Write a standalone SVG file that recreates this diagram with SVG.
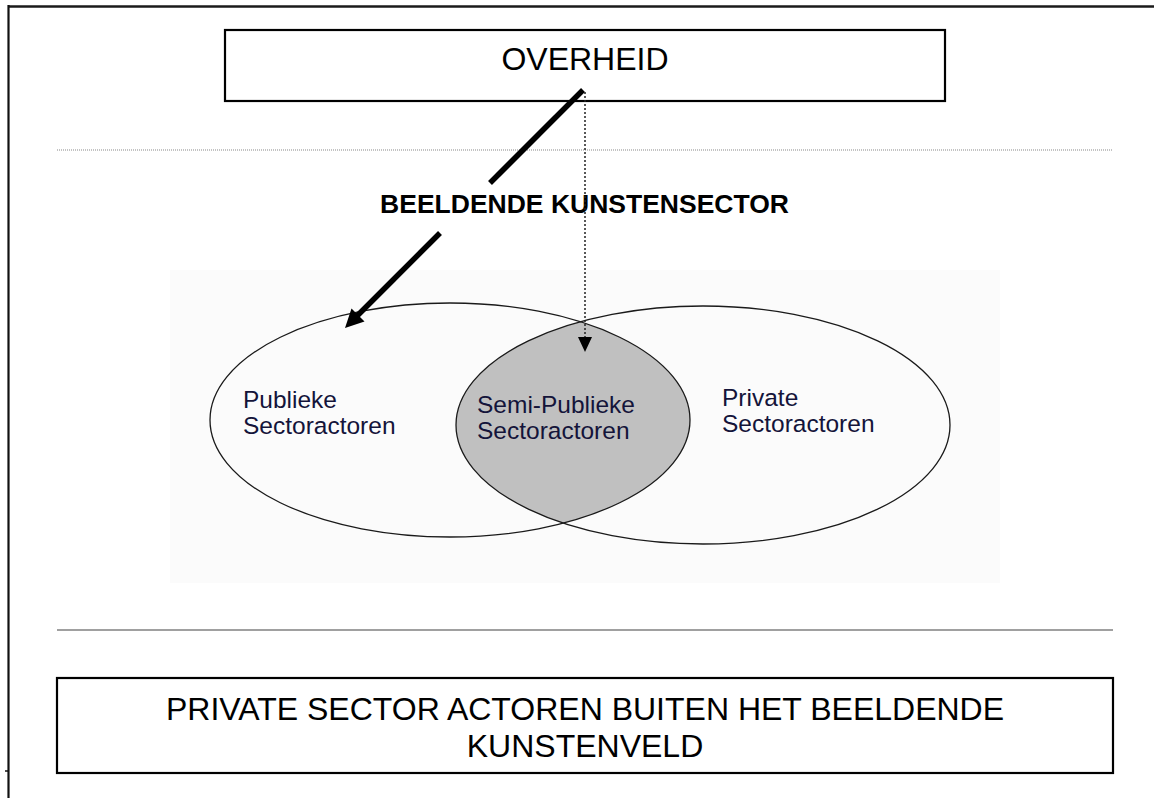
<svg xmlns="http://www.w3.org/2000/svg" width="1154" height="798" viewBox="0 0 1154 798">
<style>
.box{fill:#fff;stroke:#000;stroke-width:2.2}
.big{font-family:"Liberation Sans",Arial,sans-serif;font-size:32px;fill:#000;text-anchor:middle}
.title{font-family:"Liberation Sans",Arial,sans-serif;font-size:26.5px;font-weight:bold;fill:#000;text-anchor:middle}
.venn{font-family:"Liberation Sans",Arial,sans-serif;font-size:24.5px;fill:#14143a}
.ell{fill:none;stroke:#1a1a1a;stroke-width:1.3}
</style>
<defs>
<clipPath id="clipLeft"><ellipse cx="450" cy="420" rx="240" ry="117"/></clipPath>
</defs>
<rect width="1154" height="798" fill="#fff"/>
<g id="frame">
<line x1="8" y1="6.5" x2="1154" y2="6.5" stroke="#1a1a1a" stroke-width="2.6"/>
<line x1="8.5" y1="5" x2="8.5" y2="798" stroke="#111" stroke-width="2.2"/>
<line x1="5" y1="771" x2="9" y2="771" stroke="#111" stroke-width="1.5"/>
<line x1="57" y1="150" x2="1113" y2="150" stroke="#888" stroke-width="1.2" stroke-dasharray="1 1"/>
<line x1="57" y1="630" x2="1113" y2="630" stroke="#808080" stroke-width="1.5"/>
<rect x="170" y="270" width="830" height="313" fill="#fbfbfb"/>
</g>
<g id="overheid">
<rect class="box" x="225" y="30" width="720" height="71"/>
<text class="big" x="585" y="70">OVERHEID</text>
</g>
<g id="sector-label">
<text class="title" x="584.5" y="213">BEELDENDE KUNSTENSECTOR</text>
</g>
<g id="venn">
<ellipse cx="703" cy="425" rx="247" ry="119" fill="#c0c0c0" clip-path="url(#clipLeft)"/>
<ellipse class="ell" cx="450" cy="420" rx="240" ry="117"/>
<ellipse class="ell" cx="703" cy="425" rx="247" ry="119"/>
</g>
<g id="publiek">
<text class="venn" x="243" y="408">Publieke</text>
<text class="venn" x="243" y="434">Sectoractoren</text>
</g>
<g id="semi-publiek">
<text class="venn" x="477" y="413">Semi-Publieke</text>
<text class="venn" x="477" y="439">Sectoractoren</text>
</g>
<g id="privaat">
<text class="venn" x="722" y="406">Private</text>
<text class="venn" x="722" y="432">Sectoractoren</text>
</g>
<g id="buiten">
<rect class="box" x="57" y="678" width="1056" height="95"/>
<text class="big" x="585" y="720">PRIVATE SECTOR ACTOREN BUITEN HET BEELDENDE</text>
<text class="big" x="585" y="757">KUNSTENVELD</text>
</g>
<g id="connectors">
<line x1="583" y1="90" x2="490" y2="183" stroke="#000" stroke-width="5.5"/>
<line x1="440" y1="233" x2="356" y2="317" stroke="#000" stroke-width="5.5"/>
<polygon points="345,328 351.5,308.5 364.5,321.5" fill="#000"/>
<line x1="585" y1="92" x2="585" y2="338" stroke="#222" stroke-width="1.5" stroke-dasharray="2 2"/>
<polygon points="585,352 578,337 592,337" fill="#000"/>
</g>
</svg>
